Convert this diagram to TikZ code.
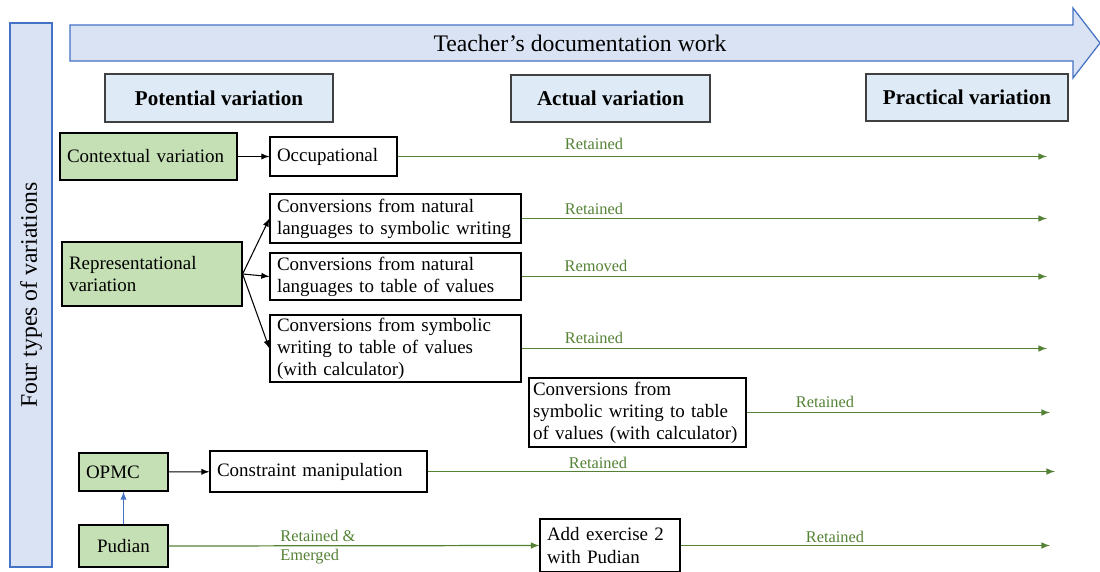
\documentclass[tikz,border=0pt]{standalone}
\usepackage{fontspec}
\setmainfont{Liberation Serif}
\usepackage{xcolor}
\usetikzlibrary{shapes.geometric, arrows, calc}
\definecolor{bluefill}{HTML}{DAE3F3}
\definecolor{blueline}{HTML}{4472C4}
\definecolor{headfill}{HTML}{DEEBF7}
\definecolor{greenfill}{HTML}{C5E0B4}
\definecolor{greenline}{HTML}{548235}

\begin{document}
\begin{tikzpicture}[
    x=0.02cm, y=-0.02cm,
    box/.style={rectangle, draw=black, line width=0.7pt, fill=white, align=left, inner xsep=0.14cm, inner ysep=0pt, font={\fontsize{10.8}{12.6}\selectfont}},
    headbox/.style={rectangle, draw=black!75, line width=0.7pt, fill=headfill, align=center, font={\fontsize{12}{14}\selectfont\bfseries}},
    lbl/.style={text=greenline, inner sep=0pt, align=left, font={\fontsize{9.3}{11}\selectfont}},
    arrow/.style={line width=0.6pt,->,>=latex},
    garrow/.style={line width=0.7pt,->,>=latex, greenline}
  ]
    \useasboundingbox (0,0) rectangle (1100,572);

    % Side bar and process arrow
    \node[rectangle, draw=blueline, line width=0.7pt, fill=bluefill, minimum width=0.84cm, minimum height=10.88cm, inner sep=0pt] (side) at (31,295) {};
    \node[rotate=90, font={\fontsize{13.5}{16}\selectfont}] (sidetext) at (side.center) {Four types of variations};
    \draw[draw=blueline, line width=0.7pt, fill=bluefill] (70,25) -- (1073,25) -- (1073,8) -- (1100,43) -- (1073,78) -- (1073,61) -- (70,61) -- cycle;
    \node[font={\fontsize{13.5}{16}\selectfont}] (work) at (580,43) {Teacher’s documentation work};

    % Column headers
    \node[headbox, minimum width=4.56cm, minimum height=0.96cm] (potential) at (219,98) {Potential variation};
    \node[headbox, minimum width=3.98cm, minimum height=0.94cm] (actual) at (610.5,98.5) {Actual variation};
    \node[headbox, minimum width=4.04cm, minimum height=0.94cm] (practical) at (967,97.5) {Practical variation};

    % Potential variation
    \node[box, fill=greenfill, text width=3.26cm, minimum height=0.94cm] (ctx) at (148.5,156.5) {Contextual variation};
    \node[box, text width=2.26cm, minimum height=0.78cm] (occ) at (333.5,156.5) {Occupational};
    \node[box, fill=greenfill, text width=3.32cm, minimum height=1.28cm] (rep) at (152,274) {Representational\\variation};
    \node[box, text width=4.74cm, minimum height=0.98cm] (conv1) at (395.5,218.5) {Conversions from natural\\languages to symbolic writing};
    \node[box, text width=4.74cm, minimum height=0.94cm] (conv2) at (395.5,276.5) {Conversions from natural\\languages to table of values};
    \node[box, text width=4.74cm, minimum height=1.34cm] (conv3) at (395.5,348.5) {Conversions from symbolic\\writing to table of values\\(with calculator)};
    \node[box, fill=greenfill, text width=1.5cm, minimum height=0.76cm] (opmc) at (123.5,472) {OPMC};
    \node[box, text width=4.06cm, minimum height=0.82cm] (cm) at (318.5,471.5) {Constraint manipulation};
    \node[box, fill=greenfill, text width=1.5cm, align=center, minimum height=0.84cm] (pud) at (123.5,546) {Pudian};

    % Actual variation
    \node[box, inner xsep=0.08cm, text width=4.18cm, minimum height=1.38cm] (conv4) at (637.5,412.5) {Conversions from\\symbolic writing to table\\of values (with calculator)};
    \node[box, text width=2.52cm, minimum height=1.06cm] (add) at (610,545.5) {Add exercise 2\\with Pudian};

    % End points
    \coordinate (e1) at (1047,156.5);
    \coordinate (e2) at (1047,218.5);
    \coordinate (e3) at (1047,276.5);
    \coordinate (e4) at (1047,348.5);
    \coordinate (e5) at (1050,412.5);
    \coordinate (e6) at (1055,471.5);
    \coordinate (e7) at (1050,545.5);

    \draw[arrow] (ctx) -- (occ);
    \draw[arrow] (rep.east) -- (conv1.west);
    \draw[arrow] (rep.east) -- (conv2.west);
    \draw[arrow] (rep.east) -- (conv3.west);
    \draw[arrow] (opmc) -- (cm);
    \draw[arrow, blueline] (pud) -- (opmc);

    \draw[garrow] (occ.east) -- (e1);
    \draw[garrow] (conv1.east) -- (e2);
    \draw[garrow] (conv2.east) -- (e3);
    \draw[garrow] (conv3.east) -- (e4);
    \draw[garrow] (conv4.east) -- (e5);
    \draw[garrow] (cm.east) -- (e6);
    \draw[garrow] (pud.east) -- (add.west);
    \draw[garrow] (add.east) -- (e7);

    % Labels
    \node[lbl] (l1) at (594,144) {Retained};
    \node[lbl] (l2) at (594,209) {Retained};
    \node[lbl] (l3) at (596,266) {Removed};
    \node[lbl] (l4) at (594,338) {Retained};
    \node[lbl] (l5) at (825,402) {Retained};
    \node[lbl] (l6) at (598,463) {Retained};
    \node[lbl, anchor=west, font={\fontsize{9.3}{10.8}\selectfont}] (l7) at (280,547.5) {Retained \&\\Emerged};
    \node[lbl] (l8) at (835,537) {Retained};
  \end{tikzpicture}
\end{document}
